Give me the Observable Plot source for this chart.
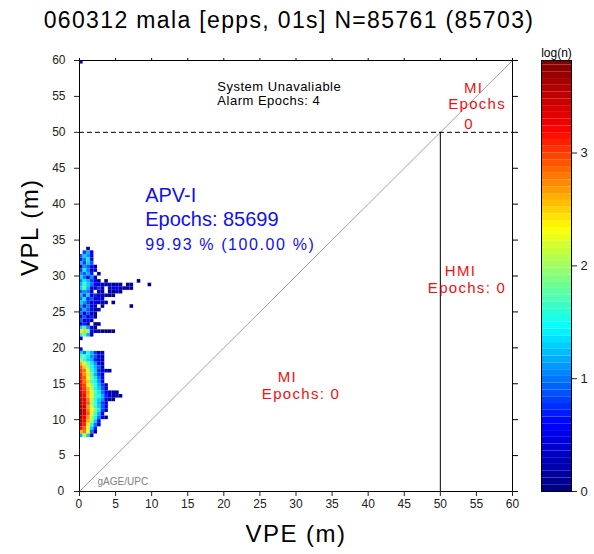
<!DOCTYPE html>
<html>
<head>
<meta charset="utf-8">
<script src="https://cdn.jsdelivr.net/npm/d3@7"></script>
<script src="https://cdn.jsdelivr.net/npm/@observablehq/plot@0.6"></script>
<style>
  html, body { margin: 0; padding: 0; background: #fff; }
  #wrap { position: relative; width: 594px; height: 554px; font-family: "Liberation Sans", Arial, sans-serif; }
  #title { position: absolute; left: 0; width: 578px; top: 7px; text-align: center; font-size: 23px; letter-spacing: 1.35px; color: #000; white-space: nowrap; }
  #main { position: absolute; left: 0; top: 40px; }
  #cbar { position: absolute; left: 530px; top: 40px; }
</style>
</head>
<body>
<div id="wrap">
  <div id="title"></div>
  <div id="main"></div>
  <div id="cbar"></div>
</div>
<script>
// ---------- data ----------
const titleText = "060312 mala [epps, 01s] N=85761 (85703)";
const xLabel = "VPE (m)";
const yLabel = "VPL (m)";
const axisTicks = [0, 5, 10, 15, 20, 25, 30, 35, 40, 45, 50, 55, 60];
const binSize = 0.5;
// lower edge of each VPL bin (m)
const rowY = [59.5, 33.5, 33.0, 32.5, 32.0, 31.5, 31.0, 30.5, 30.0, 29.5, 29.0, 28.5, 28.0, 27.5, 27.0,
  26.5, 26.0, 25.5, 25.0, 24.5, 24.0, 23.5, 23.0, 22.5, 22.0, 21.5, 21.0, 19.5, 19.0, 18.5, 18.0,
  17.5, 17.0, 16.5, 16.0, 15.5, 15.0, 14.5, 14.0, 13.5, 13.0, 12.5, 12.0, 11.5, 11.0, 10.5, 10.0,
  9.5, 9.0, 8.5, 8.0, 7.5];
// log10(count) per VPE bin (0, 0.5, 1.0, ... m), null = empty
const rowValues = [
  [0.5],
  [null, null, 0.1],
  [null, 0.8, 1.2, 0.5],
  [0.9, 1.3, 1.1, 0.6],
  [0.7, 1.0, 1.4, 0.4],
  [1.2, 0.8, 1.3, 0.9],
  [0.3, 1.1, 0.9, 0.6, 0.2],
  [0.8, 1.4, 1.0, 0.3, 0.5],
  [1.1, 0.9, 1.2, 0.7, null, 0.2],
  [1.3, 1.0, 0.6, 1.1, 0.3],
  [1.0, 1.4, 1.2, 0.8, 0.5, 0.2, null, 0.1, null, null, null, null, null, null, null, null, 0.1],
  [1.2, 1.6, 1.3, 1.0, 0.6, 0.3, 0.4, 0.2, 0.3, 0.1, 0.3, 0.2, null, 0.1, 0.2, null, null, null, null, 0.1],
  [1.3, 1.7, 1.2, 0.6, 0.3, 0.8, 0.2, null, 0.3, 0.5, 0.4, 0.2, 0.3, 0.1, 0.2],
  [0.9, 1.1, 1.0, 0.4, null, 0.3, 0.1, null, 0.2, 0.0, 0.3, 0.1],
  [1.2, 0.8, 1.3, 0.5, 0.7, 0.2, 0.4, 0.3, 0.1, 0.2],
  [1.0, 1.4, 0.7, 0.9, 0.3, 0.5, 0.2],
  [1.3, 1.1, 0.8, 0.5, 0.6, 0.3, 0.4, 0.1, null, 0.2],
  [1.1, 0.7, 1.0, 0.4, 0.3, null, 0.1, null, null, null, null, null, null, null, 0.1],
  [0.8, 1.2, 0.9, 0.6, 0.2, 0.3],
  [1.0, 0.5, 0.9, 0.3, 0.1],
  [0.6, 0.9, 0.4, 0.7, 0.2],
  [0.9, 0.3, 0.6, 0.2],
  [0.4, 0.7, 0.2, null, 0.1, 0.0],
  [1.3, 1.6, 1.1, 0.5, 0.2],
  [2.4, 2.5, 1.9, 0.6, 0.2, 0.4, 0.1, 0.0, 0.2, 0.1],
  [1.5, 1.8, 1.2, 0.3],
  [0.5],
  [0.6],
  [1.3, 1.0, 1.5, 1.2, 0.8, 0.2, 0.4],
  [1.6, 1.8, 1.4, 1.1, 0.9, 0.6, 0.3],
  [1.9, 1.6, 1.3, 1.2, 0.7, 0.4, 0.1],
  [2.6, 2.2, 1.8, 1.4, 1.1, 0.6, 0.3],
  [2.9, 2.5, 2.0, 1.5, 1.2, 0.9, 0.2],
  [3.0, 2.8, 2.2, 1.6, 1.3, 0.7, 0.5, 0.3, 0.1],
  [3.1, 2.7, 2.4, 1.8, 1.2, 0.8, 0.4],
  [3.1, 2.9, 2.3, 1.9, 1.4, 1.0, 0.6],
  [3.2, 2.8, 2.5, 1.7, 1.5, 1.1, 0.5],
  [3.2, 3.0, 2.4, 2.0, 1.6, 1.2, 0.8, 0.3],
  [3.3, 3.0, 2.6, 2.1, 1.5, 1.3, 0.9, 0.4],
  [3.4, 3.1, 2.7, 2.2, 1.8, 1.4, 1.0, 0.6, 0.3, 0.2, 0.1],
  [3.5, 3.2, 2.6, 2.3, 1.7, 1.5, 1.2, 0.7, 0.4, 0.2, 0.3, 0.1],
  [3.5, 3.3, 2.8, 2.1, 1.6, 1.3, 1.1, 0.5, 0.3, 0.1],
  [3.6, 3.3, 2.9, 2.0, 1.7, 1.2, 0.8, 0.4],
  [3.6, 3.4, 2.7, 2.2, 1.6, 1.3, 0.9, 0.5],
  [3.7, 3.4, 2.8, 2.3, 1.9, 1.4, 0.8, 0.3],
  [3.7, 3.4, 2.9, 2.2, 1.7, 1.2, 0.6],
  [3.6, 3.3, 2.7, 2.1, 1.5, 1.0, 0.5, 0.1],
  [3.6, 3.2, 2.6, 2.0, 1.3, 0.6],
  [3.5, 3.1, 2.4, 1.6, 1.0, 0.4],
  [3.2, 2.9, 2.2, 1.3, 0.7],
  [2.6, 2.8, 2.3, 1.0, 0.2],
  [1.2, 2.1, 1.3, 0.1]
];
// colour scale (log(n))
const colorStops = [0, 0.6, 1.45, 2.33, 3.2, 3.82];
const colorRange = ["#00007f", "#0000ff", "#00ffff", "#ffff00", "#ff0000", "#7f0000"];
const cbarTicks = [0, 1, 2, 3];
const cbarLabel = "log(n)";
// reference lines
const diagX = [0, 60];
const alarmLimit = 50;
// annotations
const blackNotes = ["System Unavaliable", "Alarm Epochs: 4"];
const blackNoteX = [19.1, 19.1];
const blackNoteY = [56.4, 54.4];
const redNotes = ["MI", "Epochs", "0", "HMI", "Epochs: 0", "MI", "Epochs: 0"];
const redNoteX = [54.6, 55.1, 54.0, 52.8, 53.7, 28.8, 30.7];
const redNoteY = [56.1, 53.9, 51.1, 30.7, 28.3, 15.9, 13.6];
const blueNotes = ["APV-I", "Epochs: 85699", "99.93 % (100.00 %)"];
const blueNoteX = [9.1, 9.1, 9.1];
const blueNoteY = [41.2, 37.9, 34.3];
const blueNoteSize = [20, 20, 16];
const credit = "gAGE/UPC";

// ---------- build ----------
const cells = rowY.flatMap((y, i) => rowValues[i].map((v, j) => ({x: j * binSize, y, v})).filter(d => d.v != null));
const diag = diagX.map(d => ({x: d, y: d}));
const font = "'Liberation Sans', Arial, sans-serif";
const colorOpt = {type: "linear", domain: colorStops, range: colorRange, interpolate: "rgb", clamp: true};

document.getElementById("title").textContent = titleText;

const main = Plot.plot({
  width: 530, height: 514,
  marginLeft: 79, marginRight: 18, marginTop: 20, marginBottom: 63,
  style: {fontFamily: font, fontSize: "12px", color: "#000", background: "#fff"},
  x: {domain: [0, 60]},
  y: {domain: [0, 60]},
  color: colorOpt,
  marks: [
    Plot.rect(cells, {x1: "x", x2: d => d.x + binSize, y1: "y", y2: d => d.y + binSize, fill: "v", inset: 0}),
    Plot.line(diag, {x: "x", y: "y", stroke: "#a0a0a0", strokeWidth: 1}),
    Plot.ruleY([alarmLimit], {stroke: "#000", strokeDasharray: "5,3", strokeWidth: 1}),
    Plot.ruleX([alarmLimit], {y1: 0, y2: alarmLimit, stroke: "#000", strokeWidth: 1}),
    Plot.frame({stroke: "#000"}),
    Plot.axisX(axisTicks, {anchor: "bottom", tickSize: 5, tickPadding: 3, label: null, fontSize: 12, color: "#222"}),
    Plot.axisX(axisTicks, {anchor: "top", tickSize: 3, tickFormat: () => "", label: null}),
    Plot.axisY(axisTicks, {anchor: "left", tickSize: 5, tickPadding: 9, label: null, fontSize: 12, color: "#222"}),
    Plot.axisY(axisTicks, {anchor: "right", tickSize: 5, tickFormat: () => "", label: null}),
    Plot.text([xLabel], {frameAnchor: "bottom", dy: 50, fontSize: 24, fill: "#000"}),
    Plot.text([yLabel], {frameAnchor: "left", dx: -49, rotate: -90, fontSize: 24, fill: "#000"}),
    Plot.text(blackNotes, {x: (d, i) => blackNoteX[i], y: (d, i) => blackNoteY[i], text: d => d, textAnchor: "start", fontSize: 13, fill: "#000"}),
    Plot.text(redNotes, {x: (d, i) => redNoteX[i], y: (d, i) => redNoteY[i], text: d => d, fontSize: 15, fill: "#f01010"}),
    Plot.text(blueNotes, {x: (d, i) => blueNoteX[i], y: (d, i) => blueNoteY[i], text: d => d, textAnchor: "start", fontSize: (d, i) => blueNoteSize[i], fill: "#1010f0"}),
    Plot.text([credit], {x: 2.5, y: 1.4, text: d => d, textAnchor: "start", fontSize: 10, fill: "#808080"})
  ]
});
// letter spacing to mimic the wider original typeface
const spacing = new Map([
  [xLabel, 1.5], [yLabel, 1.5],
  [blackNotes[0], 0.5], [blackNotes[1], 0.5],
  [blueNotes[2], 1.6]
]);
redNotes.forEach(t => spacing.set(t, 1.3));
d3.select(main).selectAll("text").each(function () {
  const t = this.textContent;
  if (spacing.has(t)) this.setAttribute("letter-spacing", spacing.get(t));
});
document.getElementById("main").append(main);

const bandStep = 0.06;
const cMax = colorStops[colorStops.length - 1];
const bands = d3.range(0, cMax - 1e-9, bandStep);
const cbar = Plot.plot({
  width: 64, height: 514,
  marginLeft: 11, marginRight: 23, marginTop: 20, marginBottom: 63,
  style: {fontFamily: font, fontSize: "13px", color: "#000", background: "#fff"},
  x: {domain: [0, 1], axis: null},
  y: {domain: [0, cMax]},
  color: colorOpt,
  marks: [
    Plot.rect(bands, {x1: 0, x2: 1, y1: d => d, y2: d => Math.min(d + bandStep, cMax), fill: d => d + bandStep / 2}),
    Plot.frame({stroke: "#000"}),
    Plot.axisY(cbarTicks, {anchor: "right", tickSize: 5, tickPadding: 4, tickFormat: d => String(d), label: null, fontSize: 13, color: "#222"}),
    Plot.text([cbarLabel], {frameAnchor: "top", dy: -12, fontSize: 12, fill: "#000"})
  ]
});
document.getElementById("cbar").append(cbar);
</script>
</body>
</html>
